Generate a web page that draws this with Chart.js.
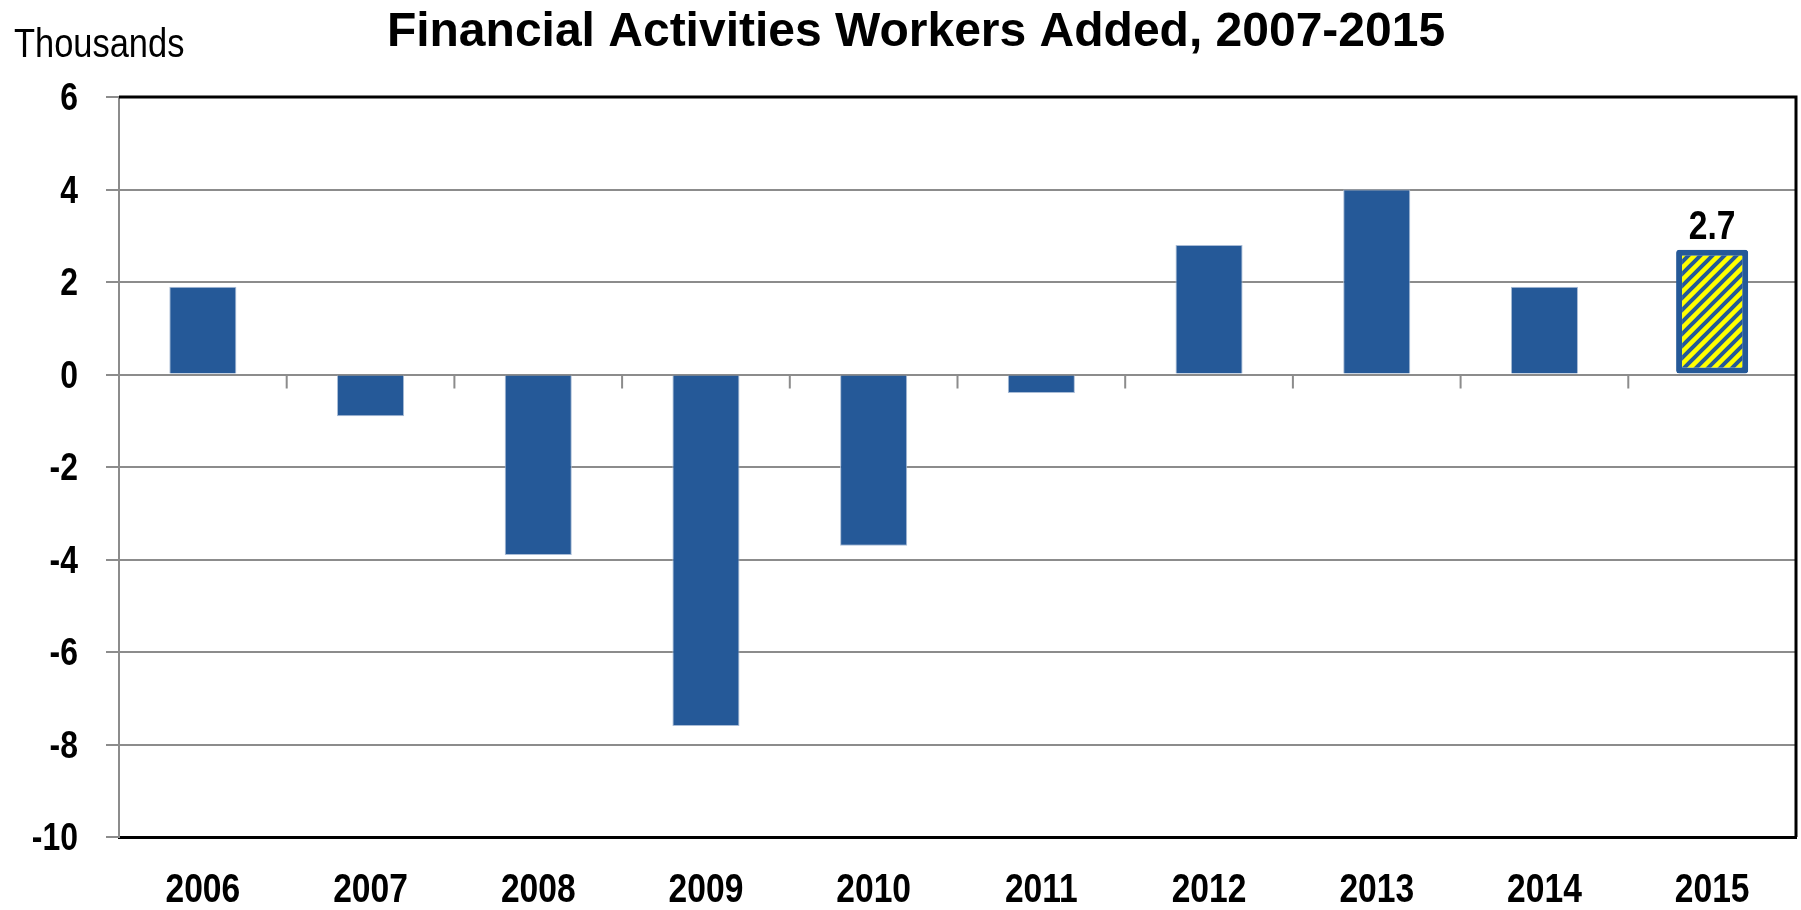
<!DOCTYPE html>
<html>
<head>
<meta charset="utf-8">
<script src="https://cdn.jsdelivr.net/npm/chart.js@4.4.1/dist/chart.umd.min.js"></script>
<style>
  body { margin: 0; background: #fff; }
  #wrap { width: 1801px; height: 910px; position: relative; }
</style>
</head>
<body>
<div id="wrap"><canvas id="workersChart"></canvas></div>
<script>
// Financial activities workers added, thousands
const years = ['2006', '2007', '2008', '2009', '2010', '2011', '2012', '2013', '2014', '2015'];
const added = [1.9, -0.9, -3.9, -7.6, -3.7, -0.4, 2.8, 4.0, 1.9, null];
const latest = [null, null, null, null, null, null, null, null, null, 2.7];
const yTicks = [6, 4, 2, 0, -2, -4, -6, -8, -10];

const FONT = "'Liberation Sans', Arial, sans-serif";
const BLUE = '#255998';
const NARROW = 0.84; // no narrow face installed, squeeze horizontally

// yellow with blue diagonal stripes for the latest year
function stripes() {
  const n = 12;
  const c = document.createElement('canvas');
  c.width = n; c.height = n;
  const g = c.getContext('2d');
  g.fillStyle = '#ffff00';
  g.fillRect(0, 0, n, n);
  g.strokeStyle = BLUE;
  g.lineWidth = 4;
  g.beginPath();
  g.moveTo(-n / 2, n / 2); g.lineTo(n / 2, -n / 2);
  g.moveTo(0, n); g.lineTo(n, 0);
  g.moveTo(n / 2, n * 1.5); g.lineTo(n * 1.5, n / 2);
  g.stroke();
  return g.createPattern(c, 'repeat');
}

function squeezed(ctx, text, x, y, font, align) {
  ctx.save();
  ctx.font = font;
  ctx.textAlign = align;
  ctx.textBaseline = 'alphabetic';
  ctx.translate(x, y);
  ctx.scale(NARROW, 1);
  ctx.fillText(text, 0, 0);
  ctx.restore();
}

const extras = {
  id: 'extras',
  afterDatasetsDraw(chart) {
    const { ctx, chartArea: a, scales: { x, y } } = chart;
    ctx.save();
    // small tick marks on the zero line between years
    const y0 = y.getPixelForValue(0);
    ctx.strokeStyle = '#8c8c8c';
    ctx.lineWidth = 2;
    ctx.beginPath();
    for (let i = 0; i < years.length - 1; i++) {
      const xm = (x.getPixelForValue(i) + x.getPixelForValue(i + 1)) / 2;
      ctx.moveTo(xm, y0);
      ctx.lineTo(xm, y0 + 14);
    }
    ctx.stroke();

    // top and right frame
    ctx.strokeStyle = '#000';
    ctx.lineWidth = 3;
    ctx.beginPath();
    ctx.moveTo(a.left, a.top);
    ctx.lineTo(a.right, a.top);
    ctx.lineTo(a.right, a.bottom);
    ctx.stroke();

    ctx.fillStyle = '#000';
    // tick labels
    years.forEach((yr, i) => {
      squeezed(ctx, yr, x.getPixelForValue(i), a.bottom + 65, 'bold 40px ' + FONT, 'center');
    });
    yTicks.forEach(v => {
      squeezed(ctx, String(v), a.left - 41, y.getPixelForValue(v) + 13, 'bold 38px ' + FONT, 'right');
    });

    // value label on the latest bar
    const idx = latest.length - 1;
    const bar = chart.getDatasetMeta(1).data[idx];
    squeezed(ctx, latest[idx].toFixed(1), bar.x, bar.y - 11, 'bold 40px ' + FONT, 'center');

    // title and unit
    ctx.font = 'bold 48px ' + FONT;
    ctx.textAlign = 'center';
    ctx.fillText('Financial Activities Workers Added, 2007-2015', 916, 46);
    squeezed(ctx, 'Thousands', 14, 57, '41px ' + FONT, 'left');
    ctx.restore();
  }
};

new Chart(document.getElementById('workersChart'), {
  type: 'bar',
  data: {
    labels: years,
    datasets: [{
      data: added,
      backgroundColor: BLUE,
      borderColor: '#a9bcd6',
      borderWidth: 1,
      barPercentage: 0.4,
      categoryPercentage: 1,
      grouped: false
    }, {
      data: latest,
      backgroundColor: stripes(),
      borderColor: BLUE,
      borderWidth: 6,
      borderRadius: 3,
      borderSkipped: false,
      barPercentage: 0.43,
      categoryPercentage: 1,
      grouped: false
    }]
  },
  options: {
    responsive: true,
    maintainAspectRatio: false,
    animation: false,
    layout: { padding: { top: 97, right: 5, left: 0, bottom: 0 } },
    scales: {
      x: {
        grid: { display: false, drawTicks: false },
        border: { color: '#000', width: 3 },
        ticks: { display: false },
        afterFit: s => { s.height = 73; }
      },
      y: {
        min: -10,
        max: 6,
        afterBuildTicks: s => { s.ticks = yTicks.map(v => ({ value: v })); },
        grid: { color: '#8c8c8c', lineWidth: 2, tickLength: 13 },
        border: { color: '#8c8c8c', width: 2 },
        ticks: { display: false },
        afterFit: s => { s.width = 119; }
      }
    },
    plugins: {
      legend: { display: false },
      tooltip: { enabled: false }
    }
  },
  plugins: [extras]
});
</script>
</body>
</html>
